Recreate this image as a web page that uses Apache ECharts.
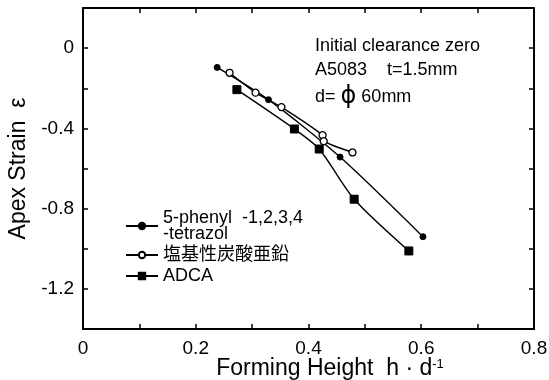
<!DOCTYPE html>
<html>
<head>
<meta charset="utf-8">
<script src="https://cdn.jsdelivr.net/npm/echarts@6/dist/echarts.min.js"></script>
<style>
html,body{margin:0;padding:0;background:#fff;}
#chart{width:549px;height:380px;}
</style>
</head>
<body>
<div id="chart"></div>
<script>
// ---- data ----
const seriesNames = ['5-phenyl  -1,2,3,4\n-tetrazol', '塩基性炭酸亜鉛', 'ADCA'];
const phenylX = [0.238, 0.329, 0.456, 0.603];
const phenylY = [-0.096, -0.257, -0.543, -0.940];
const zincX = [0.260, 0.306, 0.352, 0.425, 0.427, 0.478];
const zincY = [-0.123, -0.222, -0.294, -0.434, -0.464, -0.520];
const adcaX = [0.273, 0.375, 0.419, 0.481, 0.578];
const adcaY = [-0.207, -0.403, -0.503, -0.753, -1.011];
const xTickLabels = ['0', '0.2', '0.4', '0.6', '0.8'];
const yTickLabels = ['0', '-0.4', '-0.8', '-1.2'];
const xTitle = 'Forming Height  h \u00B7 d{sup|-1}';
const yTitle = 'Apex Strain  \u03B5';
const noteLines = ['Initial clearance zero', 'A5083    t=1.5mm', 'd= {phi|\u03D5} 60mm'];

const FONT = '"Liberation Sans", Arial, sans-serif';
const zip = (xs, ys) => xs.map((x, i) => [x, ys[i]]);

const chart = echarts.init(document.getElementById('chart'), null, {renderer: 'canvas'});

const axisLineStyle = {color: '#000', width: 2};
const tickStyle = {show: true, inside: true, length: 5, lineStyle: {color: '#000', width: 1.5}};
const baseX = {
  type: 'value', min: 0, max: 0.8, interval: 0.1,
  axisLine: {show: true, onZero: false, lineStyle: axisLineStyle},
  axisTick: tickStyle,
  splitLine: {show: false}
};
const baseY = {
  type: 'value', min: -1.4, max: 0.2, interval: 0.2,
  axisLine: {show: true, onZero: false, lineStyle: axisLineStyle},
  axisTick: tickStyle,
  splitLine: {show: false}
};
const fmtX = v => {
  const s = (Math.round(v * 10) / 10).toString();
  return xTickLabels.indexOf(s) >= 0 ? s : '';
};
const fmtY = v => {
  const s = (Math.round(v * 10) / 10).toString();
  return yTickLabels.indexOf(s) >= 0 ? s : '';
};

const lineCommon = {
  type: 'line', smooth: 0.25, color: '#000',
  lineStyle: {color: '#000', width: 1.4},
  z: 3
};

chart.setOption({
  animation: false,
  backgroundColor: '#fff',
  textStyle: {fontFamily: FONT},
  grid: {left: 83, right: 15, top: 8, bottom: 51, containLabel: false, outerBoundsMode: 'none'},
  xAxis: [
    Object.assign({}, baseX, {
      position: 'bottom',
      axisLabel: {show: true, formatter: fmtX, color: '#000', fontSize: 19, fontFamily: FONT, margin: 10}
    }),
    Object.assign({}, baseX, {position: 'top', axisLabel: {show: false}})
  ],
  yAxis: [
    Object.assign({}, baseY, {
      position: 'left',
      axisLabel: {show: true, formatter: fmtY, color: '#000', fontSize: 19, fontFamily: FONT, margin: 9},
      name: yTitle,
      nameLocation: 'middle', nameGap: 51, nameRotate: 90,
      nameTextStyle: {color: '#000', fontSize: 23, fontFamily: FONT}
    }),
    Object.assign({}, baseY, {position: 'right', axisLabel: {show: false}})
  ],
  legend: {
    orient: 'vertical', left: 120, top: 204,
    itemWidth: 32, itemHeight: 8, itemGap: 3,
    data: seriesNames,
    textStyle: {color: '#000', fontSize: 18, lineHeight: 16,
      fontFamily: FONT + ', "Noto Sans CJK JP"'}
  },
  graphic: noteLines.map((t, i) => ({
    type: 'text', left: 315, top: 37 + i * 24,
    style: {text: t, fill: '#000', font: '18px ' + FONT,
      rich: {phi: {fontSize: 24, fontFamily: '"DejaVu Sans", sans-serif', fill: '#000'}}}
  })).concat([{
    type: 'text', x: 330, y: 369,
    style: {text: xTitle, fill: '#000', fontSize: 23, fontFamily: FONT,
      align: 'center', verticalAlign: 'middle',
      rich: {sup: {fontSize: 13, verticalAlign: 'top', padding: [0, 0, 10, 0], fontFamily: FONT, fill: '#000'}}}
  }]),
  series: [
    Object.assign({}, lineCommon, {
      name: seriesNames[0], data: zip(phenylX, phenylY),
      symbol: 'circle', symbolSize: 6,
      itemStyle: {color: '#000', borderColor: '#000', borderWidth: 1}
    }),
    Object.assign({}, lineCommon, {
      name: seriesNames[1], data: zip(zincX, zincY),
      symbol: 'circle', symbolSize: 7,
      itemStyle: {color: '#fff', borderColor: '#000', borderWidth: 1.3}
    }),
    Object.assign({}, lineCommon, {
      name: seriesNames[2], data: zip(adcaX, adcaY),
      symbol: 'rect', symbolSize: 8,
      itemStyle: {color: '#000', borderColor: '#000', borderWidth: 1}
    })
  ]
});
</script>
</body>
</html>
